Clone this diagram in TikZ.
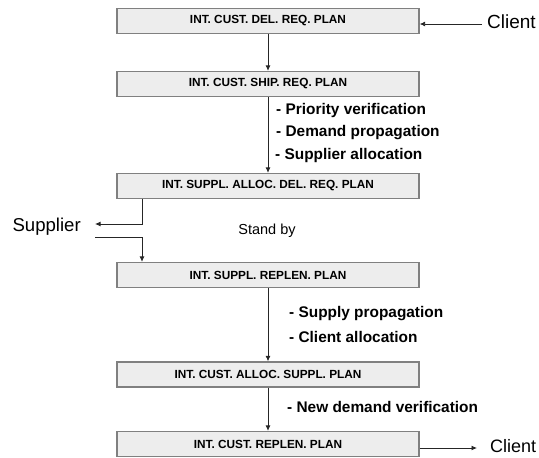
\documentclass[tikz,border=0pt]{standalone}
\usepackage{fontspec}
\setmainfont{Liberation Sans}
\usetikzlibrary{arrows.meta}
\begin{document}
\begin{tikzpicture}[x=1pt,y=-1pt,
  plan/.style={draw=black!50,line width=1.3pt,fill=black!7,minimum width=302pt,minimum height=25pt,inner sep=0pt,font=\bfseries\fontsize{11.8}{13}\selectfont},
  conn/.style={draw=black!85,line width=0.9pt,-{Latex[length=5.5pt,width=5pt]}},
  bullet/.style={anchor=west,inner sep=0pt,font=\bfseries\fontsize{15.4}{17}\selectfont},
  ext/.style={inner sep=0pt,font=\fontsize{19}{21}\selectfont}]
\useasboundingbox (0,0) rectangle (539,458);
\node[plan] (b1) at (268,21) {INT. CUST. DEL. REQ. PLAN};
\node[plan] (b2) at (268,84) {INT. CUST. SHIP. REQ. PLAN};
\node[plan] (b3) at (268,186) {INT. SUPPL. ALLOC. DEL. REQ. PLAN};
\node[plan] (b4) at (268,275) {INT. SUPPL. REPLEN. PLAN};
\node[plan] (b5) at (268,374.5) {INT. CUST. ALLOC. SUPPL. PLAN};
\node[plan] (b6) at (268,444) {INT. CUST. REPLEN. PLAN};
\node[ext,anchor=west] (c1) at (487,22) {Client};
\node[ext,anchor=west,font=\fontsize{18}{21}\selectfont] (c2) at (490,446) {Client};
\node[ext,anchor=east,font=\fontsize{18.6}{21}\selectfont] (sup) at (81,227) {Supplier};
\node[inner sep=0pt,font=\fontsize{14.5}{17}\selectfont] (sb) at (267,231) {Stand by};
\node[bullet] (t1) at (276,111) {- Priority verification};
\node[bullet] (t2) at (276,133) {- Demand propagation};
\node[bullet] (t3) at (275,156) {- Supplier allocation};
\node[bullet] (t4) at (289,314) {- Supply propagation};
\node[bullet] (t5) at (289,337) {- Client allocation};
\node[bullet] (t6) at (287,407) {- New demand verification};
\coordinate (s1) at (142,224);
\coordinate (s2) at (95,224);
\coordinate (s3) at (95,237);
\coordinate (s4) at (142,237);
\coordinate (c1s) at (482,24);
\draw[conn] (c1s) -- (c1s -| b1.east);
\draw[conn] (b1) -- (b2);
\draw[conn] (b2) -- (b3);
\draw[conn] (b3.south -| s1) -- (s1) -- (s2);
\draw[conn] (s3) -- (s4) -- (s4 |- b4.north);
\draw[conn] (b4) -- (b5);
\draw[conn] (b5) -- (b6);
\draw[conn] (b6.east |- 0,448) -- (477,448) coordinate (e6);
\end{tikzpicture}
\end{document}
